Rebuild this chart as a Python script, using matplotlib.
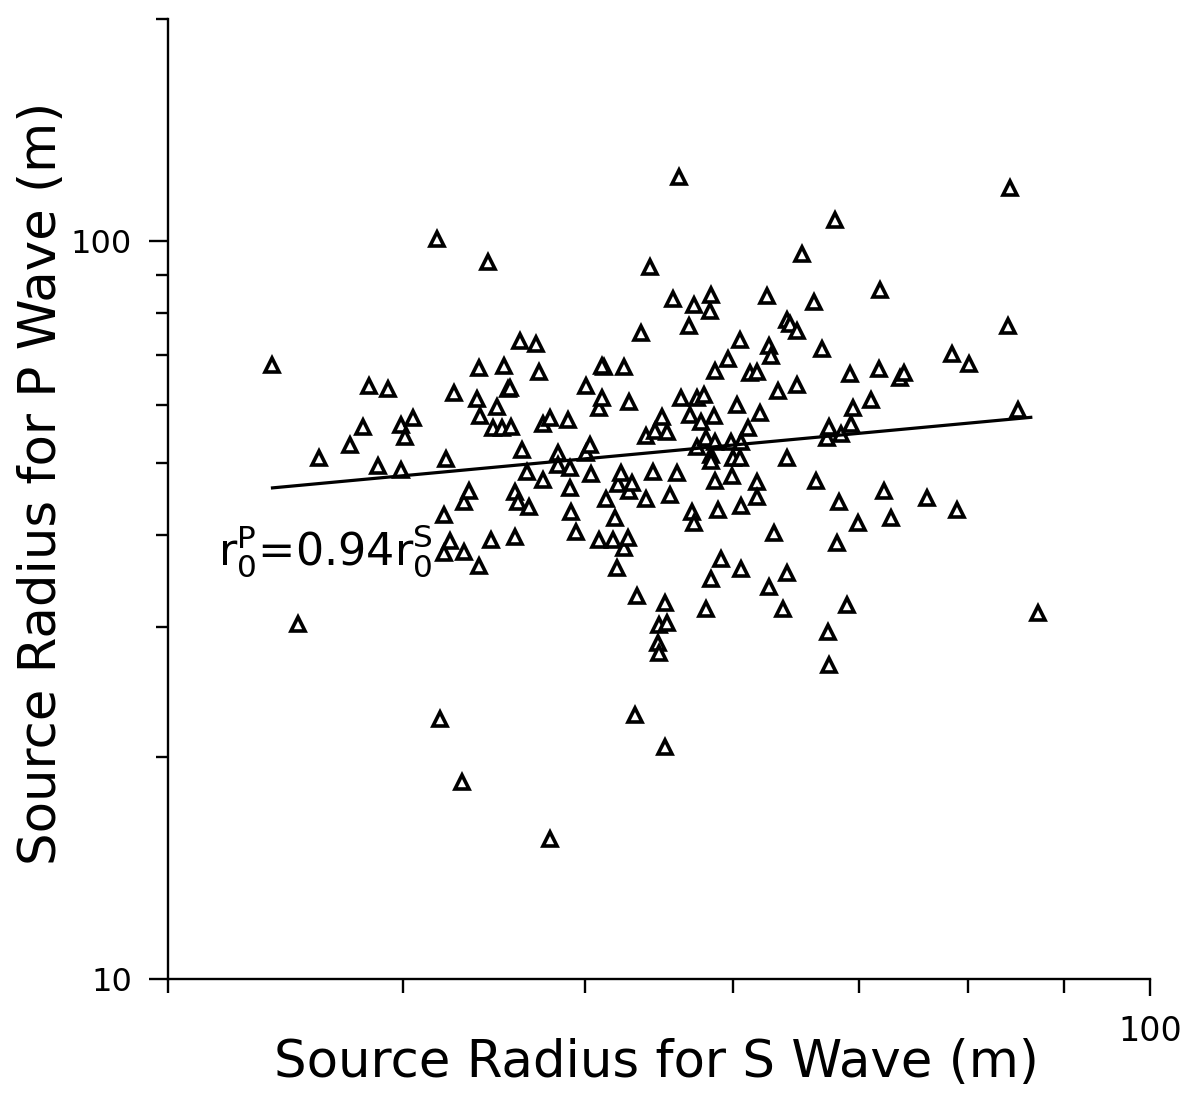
import matplotlib
matplotlib.use("Agg")
import matplotlib.pyplot as plt
from matplotlib.ticker import FixedLocator, NullFormatter

plt.rcParams['font.family'] = ['DejaVu Sans']

# Source radius for S wave (m)
rs = [34.1, 35.2, 36.1, 37.5, 38.1, 38.4, 38.8, 39.3, 39.9, 39.9, 40.1, 40.5, 41.7, 41.9,
      42.1, 42.2, 42.1, 42.4, 42.6, 43.0, 43.1, 43.1, 43.4, 43.8, 43.9, 43.9, 44.0, 44.4,
      44.6, 44.7, 44.9, 45.3, 45.2, 45.5, 45.6, 45.7, 45.9, 45.9, 46.1,
      46.2, 46.3, 46.7, 46.6, 47.1, 47.3, 47.5, 47.5, 47.9, 47.9, 48.4, 48.4, 49.0, 49.1,
      49.1, 49.2, 49.5, 50.1, 50.3, 50.1, 50.4, 50.9, 50.9, 51.1,
      51.2, 51.1, 51.3, 51.8, 51.9, 52.0, 52.1, 52.3, 52.5, 52.5, 52.7, 52.8, 52.8, 53.0,
      53.2, 53.3, 53.6, 53.9, 53.9, 54.2, 54.4, 54.5, 54.7, 54.8, 54.8, 55.0, 55.2, 55.2,
      55.3, 55.3, 55.5, 55.7, 56.0, 56.1, 56.3, 56.8, 56.9, 57.0, 57.2, 57.2, 57.4, 57.4,
      57.7, 57.9, 58.0, 58.0, 58.3, 58.4, 58.4, 58.4, 58.4, 58.6, 58.7, 58.7, 58.7, 58.9,
      59.1, 59.6, 59.8, 59.9, 60.0, 60.3, 60.5, 60.5, 60.6, 60.6, 60.6, 61.1, 61.2, 61.8,
      61.8, 61.8, 62.0, 62.5, 62.7, 62.7, 62.8, 63.1, 63.4, 63.8, 64.1, 64.3, 64.9, 64.1,
      64.1, 64.9,
      65.3, 66.2, 66.4, 66.9, 67.3, 67.5, 67.4, 67.5, 68.0, 68.1, 68.3, 68.5, 69.0, 69.2,
      69.3, 69.5, 69.9, 71.0, 71.7, 71.8, 72.2, 72.8, 73.6, 74.0, 76.1, 78.4, 78.9, 80.1,
      84.0, 84.2, 85.1, 87.2]

# Source radius for P wave (m)
rp = [67.9, 30.3, 50.8, 52.9, 56.0, 63.6, 49.5, 63.0, 48.9, 56.3, 54.3, 57.5, 100.6, 22.5,
      42.5, 50.7, 37.8, 39.2, 62.2, 18.5, 37.9, 44.3, 45.9, 61.1, 36.3, 67.3, 57.9, 93.7,
      39.3, 55.8, 59.6, 67.7, 55.8, 63.0, 63.2, 56.0, 45.7, 39.7, 44.3,
      73.2, 52.1, 43.6, 48.6, 72.5, 66.5, 47.4, 56.5, 57.6, 15.5, 51.6, 49.7, 57.2, 49.2,
      46.3, 42.9, 40.4, 51.6, 52.9, 63.6, 48.3, 39.3, 59.4, 61.3,
      67.5, 67.8, 44.7, 39.4, 42.2, 36.1, 46.8, 48.5, 67.5, 38.4, 39.6, 60.6, 45.9, 47.0,
      22.8, 33.0, 75.1, 54.5, 44.7, 92.2, 48.6, 55.3, 28.5, 27.7, 30.2, 57.7, 32.3, 20.6,
      30.4, 55.2, 45.3, 83.5, 48.5, 122.1, 61.3, 76.7, 58.1, 42.9, 81.9, 41.5, 52.6, 61.3,
      56.8, 61.9, 54.1, 31.7, 80.4, 84.5, 34.8, 51.3, 50.3, 57.9, 66.7, 53.5, 47.3, 43.2,
      37.1, 69.2, 53.5, 48.1, 50.8, 59.9, 73.4, 50.8, 53.5, 43.7, 35.9, 55.8, 66.3, 66.5,
      47.2, 45.0, 58.4, 84.2, 34.0, 72.1, 69.9, 40.2, 62.6, 31.7, 78.2, 77.2, 75.6, 50.8,
      35.5, 63.8,
      96.0, 82.7, 47.3, 71.4, 54.1, 56.0, 29.5, 26.6, 106.8, 39.0, 44.3, 54.8, 32.1, 66.1,
      56.5, 59.4, 41.5, 60.9, 67.1, 85.8, 45.9, 42.2, 65.2, 66.3, 44.9, 70.3, 43.2, 68.1,
      76.7, 118.0, 59.0, 31.3]

# Fitted line end points
fit_rs = [34.1, 86.4]
fit_rp = [46.3, 57.7]

xlabel = "Source Radius for S Wave (m)"
ylabel = "Source Radius for P Wave (m)"
relation = r"r$_\mathregular{0}^\mathregular{P}$=0.94r$_\mathregular{0}^\mathregular{S}$"

W, H = 1181, 1094
fig = plt.figure(figsize=(W / 100, H / 100), dpi=100)
ax = fig.add_axes([168 / W, 115 / H, 982 / W, 960 / H])

ax.plot(rs, rp, linestyle='none', marker='^', markersize=9.5, markerfacecolor='white',
        markeredgecolor='black', markeredgewidth=2.6)
ax.plot(fit_rs, fit_rp, color='black', linewidth=2.3)

ax.set_xscale('log')
ax.set_yscale('log')
ax.set_xlim(30, 100)
ax.set_ylim(10, 200)

for s in ['top', 'right']:
    ax.spines[s].set_visible(False)
for s in ['left', 'bottom']:
    ax.spines[s].set_linewidth(1.7)

ax.xaxis.set_major_locator(FixedLocator([100]))
ax.xaxis.set_minor_locator(FixedLocator([30, 40, 50, 60, 70, 80, 90]))
ax.set_xticklabels(['100'])
ax.xaxis.set_minor_formatter(NullFormatter())
ax.yaxis.set_major_locator(FixedLocator([10, 100]))
ax.yaxis.set_minor_locator(FixedLocator([20, 30, 40, 50, 60, 70, 80, 90, 200]))
ax.set_yticklabels(['10', '100'])
ax.yaxis.set_minor_formatter(NullFormatter())

ax.tick_params(axis='x', which='major', length=12, width=1.7, pad=14, labelsize=24)
ax.tick_params(axis='x', which='minor', length=10, width=1.7)
ax.tick_params(axis='y', which='major', length=14, width=1.7, pad=12, labelsize=23)
ax.tick_params(axis='y', which='minor', length=9, width=1.7)

fig.text(656 / W, 1 - 1063 / H, xlabel, fontsize=37, ha='center', va='center')
fig.text(42 / W, 1 - 483 / H, ylabel, fontsize=37, ha='center', va='center',
         rotation=90)

ax.text(31.9, 36.3, relation, fontsize=32, ha='left', va='baseline')

fig.savefig('out.png', dpi=100)
